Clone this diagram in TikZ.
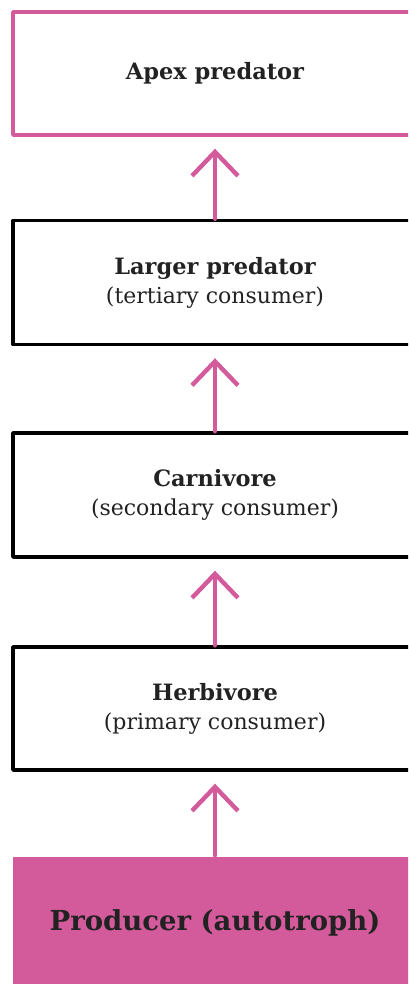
\documentclass[tikz,border=0pt]{standalone}
\usepackage{fontspec}
\setmainfont{DejaVu Serif}
\usetikzlibrary{arrows.meta}
\definecolor{foodpink}{HTML}{D35A9B}
\definecolor{inkgrey}{HTML}{222222}
\tikzset{
    level/.style={
        draw=black, line width=3.4pt, minimum width=404pt,
        minimum height=124pt, align=center, text=inkgrey,
        font=\fontsize{22}{29}\selectfont
    },
    feed/.style={
        foodpink, line width=4.4pt, -{Straight Barb[length=24pt,width=46pt]},
        shorten >=12pt
    }
}
\newcommand{\lvlname}[1]{{\bfseries\fontsize{22.5}{29}\selectfont #1}}

\begin{document}
\begin{tikzpicture}[x=1pt,y=-1pt,line cap=round,line join=round]

% page frame, boxes run off the right edge
\useasboundingbox (0,0) rectangle (408,984);
\clip (0,0) rectangle (408,984);

% trophic levels, top to bottom
\node[level, draw=foodpink, minimum height=123pt] (apex) at (215,73.5) {\lvlname{Apex predator}};
\node[level] (larger) at (215,282.5) {\lvlname{Larger predator}\\(tertiary consumer)};
\node[level] (carni) at (215,495) {\lvlname{Carnivore}\\(secondary consumer)};
\node[level, minimum height=123pt] (herbi) at (215,708.5) {\lvlname{Herbivore}\\(primary consumer)};
\node[level, draw=none, fill=foodpink, minimum height=132pt,
      font=\bfseries\fontsize{27.5}{32}\selectfont] (prod) at (215,923) {Producer (autotroph)};

% energy flows upwards
\foreach \lo/\hi in {prod/herbi, herbi/carni, carni/larger, larger/apex}
  \draw[feed] (\lo.north) -- (\hi.south);

\end{tikzpicture}
\end{document}
